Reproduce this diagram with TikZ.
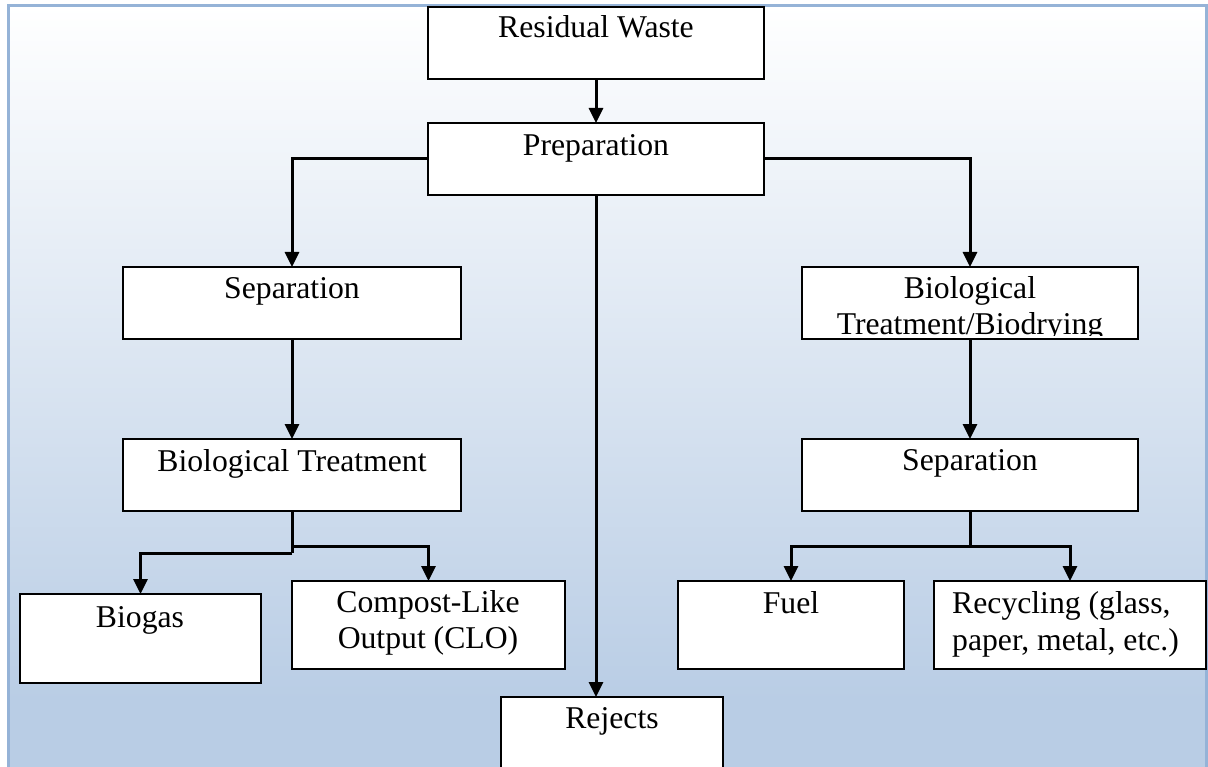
\documentclass[tikz,border=0pt]{standalone}
\usepackage{fontspec}
\setmainfont{Liberation Serif}
\usetikzlibrary{arrows.meta}
\definecolor{frameblue}{HTML}{95B3D7}
\definecolor{bgblue}{HTML}{B9CDE5}
\tikzset{
  box/.style={draw=black, fill=white, line width=2.2pt, inner sep=0pt, outer sep=0pt},
  lbl/.style={anchor=base, inner sep=0pt, font=\fontsize{31.7}{36.5}\selectfont},
  conn/.style={draw=black, line width=3pt},
  arr/.style={conn, -{Triangle[length=15pt,width=14pt]}}
}
\begin{document}
\begin{tikzpicture}[x=1pt,y=-1pt]
\useasboundingbox (0,0) rectangle (1208,767);
% background
\fill[white] (0,0) rectangle (1208,767);
\shade[top color=white, bottom color=bgblue] (8.5,5.5) rectangle (1206,700);
\fill[bgblue] (8.5,699.5) rectangle (1206,767);
\draw[frameblue, line width=3pt] (8.5,770) -- (8.5,5.5) -- (1206,5.5) -- (1206,770);

% boxes
\node[box, minimum width=336pt, minimum height=72pt] (rw) at (596,43) {};
\node[box, minimum width=336pt, minimum height=72pt] (prep) at (596,159) {};
\node[box, minimum width=338pt, minimum height=72pt] (sepL) at (292,303) {};
\node[box, minimum width=338pt, minimum height=72pt] (bioT) at (292,475) {};
\node[box, minimum width=336pt, minimum height=72pt] (bioD) at (970,303) {};
\node[box, minimum width=336pt, minimum height=72pt] (sepR) at (970,475) {};
\node[box, minimum width=241pt, minimum height=89pt] (biogas) at (140.5,638.5) {};
\node[box, minimum width=273pt, minimum height=88pt] (clo) at (428.5,625) {};
\node[box, minimum width=226pt, minimum height=88pt] (fuel) at (791,625) {};
\node[box, minimum width=272pt, minimum height=88pt] (rec) at (1070,625) {};
\node[box, minimum width=222pt, minimum height=100pt] (rej) at (612,747) {};

% texts
\node[lbl] (rw-t) at (596,38) {Residual Waste};
\node[lbl] (prep-t) at (596,156) {Preparation};
\node[lbl] (sepL-t) at (292,299) {Separation};
\node[lbl] (bioT-t) at (292,471) {Biological Treatment};
\node[lbl] (bioD-t1) at (970,299) {Biological};
\begin{scope}
  \clip (803,268) rectangle (1137,336);
  \node[lbl] (bioD-t2) at (970,335) {Treatment/Biodrying};
\end{scope}
\node[lbl] (sepR-t) at (970,470) {Separation};
\node[lbl] (biogas-t) at (140,627) {Biogas};
\node[lbl] (clo-t1) at (428,612) {Compost-Like};
\node[lbl] (clo-t2) at (428,648) {Output (CLO)};
\node[lbl] (fuel-t) at (791,613) {Fuel};
\node[lbl, anchor=base west] (rec-t1) at (952,613) {Recycling (glass,};
\node[lbl, anchor=base west] (rec-t2) at (952,650) {paper, metal, etc.)};
\node[lbl] (rej-t) at (612,728) {Rejects};

% junctions
\coordinate (jLa) at (292,553);
\coordinate (jLb) at (292,546);
\coordinate (jR) at (970,546);

% connectors
\draw[arr] (rw.south) -- (prep.north);
\draw[arr] (prep.west) -| (sepL.north);
\draw[arr] (prep.east) -| (bioD.north);
\draw[arr] (prep.south) -- (prep.south |- rej.north);
\draw[arr] (sepL.south) -- (bioT.north);
\draw[conn] (bioT.south) -- (jLa);
\draw[arr] (jLa) -| (biogas.north);
\draw[arr] (jLb) -| (clo.north);
\draw[arr] (bioD.south) -- (sepR.north);
\draw[conn] (sepR.south) -- (jR);
\draw[arr] (jR) -| (fuel.north);
\draw[arr] (jR) -| (rec.north);
\end{tikzpicture}
\end{document}
